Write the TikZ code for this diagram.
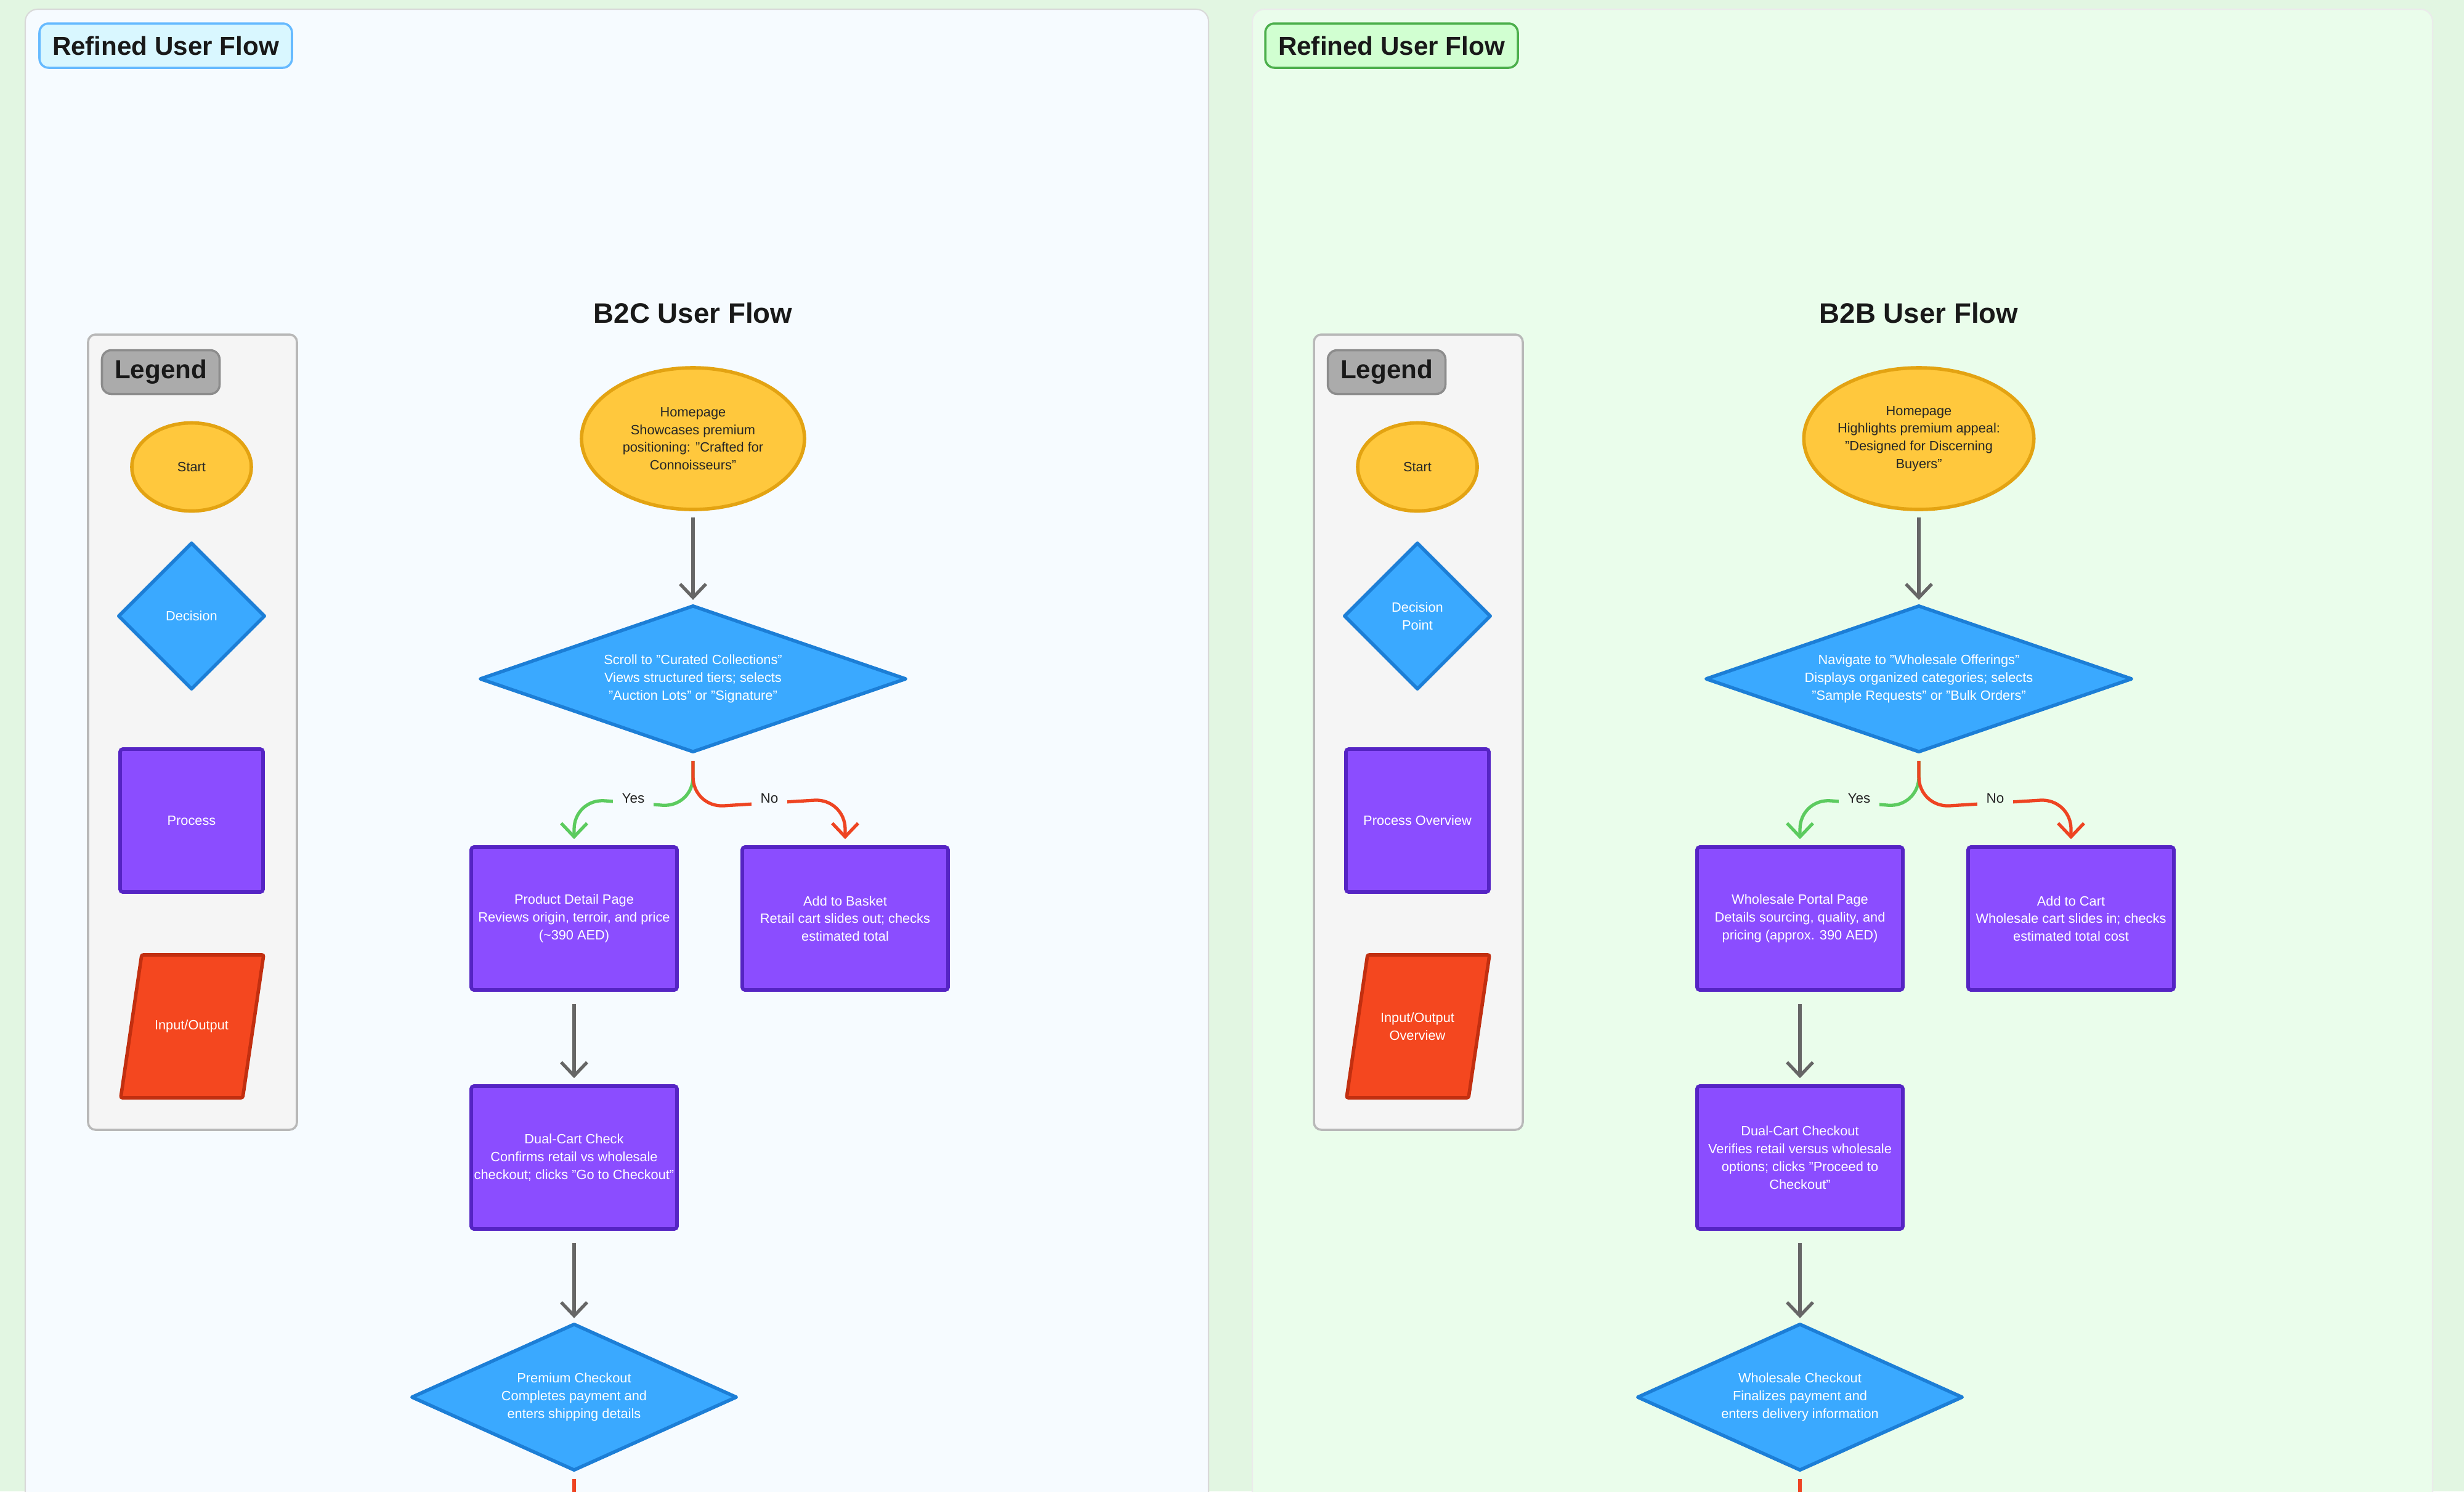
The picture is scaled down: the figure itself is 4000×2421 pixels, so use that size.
\documentclass[tikz,border=0pt]{standalone}
\usepackage{fontspec}
\setmainfont{Liberation Sans}
\usetikzlibrary{shapes.geometric,arrows.meta}
\definecolor{bgall}{HTML}{E2F6E2}
\definecolor{panA}{HTML}{F6FBFF}
\definecolor{panB}{HTML}{EAFDEB}
\definecolor{startF}{HTML}{FFC83D}\definecolor{startD}{HTML}{E3A312}
\definecolor{decF}{HTML}{3AA9FF}\definecolor{decD}{HTML}{1C7ED6}
\definecolor{procF}{HTML}{8B4DFF}\definecolor{procD}{HTML}{5524C4}
\definecolor{ioF}{HTML}{F4471F}\definecolor{ioD}{HTML}{C22F10}
\definecolor{yesC}{HTML}{5CCB5F}\definecolor{noC}{HTML}{EE4422}
\definecolor{grayA}{HTML}{666666}
\tikzset{
 txt/.style={font=\fontsize{6.2}{8.2}\selectfont, align=center},
 startN/.style={ellipse, draw=startD, fill=startF, line width=1.6pt, inner sep=0pt, txt, text=black!85},
 decBox/.style={rectangle, inner sep=0pt, txt, text=white},
 decPath/.style={draw=decD, fill=decF, line width=1.6pt, line join=round},
 procN/.style={rectangle, rounded corners=1.2pt, draw=procD, fill=procF, line width=1.6pt, inner sep=0pt, txt, text=white},
 tipA/.style={-{Straight Barb[length=2.2mm,width=4.2mm,line width=1.5pt]}},
 arr/.style={draw=grayA, line width=1.5pt, tipA},
 yesA/.style={draw=yesC, line width=1.5pt, rounded corners=5mm, tipA},
 noA/.style={draw=noC, line width=1.5pt, rounded corners=5mm, tipA},
 lab/.style={font=\fontsize{6.4}{8}\selectfont, text=black!85, inner sep=1.5mm},
 tag/.style={rounded corners=1.5mm, line width=1pt, font=\bfseries\fontsize{12}{14}\selectfont, text=black!90, inner sep=0pt},
 ttl/.style={font=\bfseries\fontsize{13}{15}\selectfont, text=black!90},
}
\def\dia#1{\filldraw[decPath] (#1.north) -- (#1.east) -- (#1.south) -- (#1.west) -- cycle;}
\begin{document}
\begin{tikzpicture}[x=0.1mm,y=-0.1mm]
\useasboundingbox (0,0) rectangle (4000,2421);
\clip (0,0) rectangle (4000,2421);
\fill[bgall] (0,0) rectangle (4000,2421);
% panels
\filldraw[fill=panA, draw=black!15, line width=0.6pt, rounded corners=2mm] (41,15) rectangle (1962,2500);
\filldraw[fill=panB, draw=black!8, line width=0.6pt, rounded corners=2mm] (2033,15) rectangle (3949,2500);
\node[tag, fill=blue!20!cyan!15, draw=blue!45!cyan!60, minimum width=41mm, minimum height=7.2mm] (tagA) at (269,74) {Refined User Flow};
\node[tag, fill=green!18, draw=green!55!black!70, minimum width=41mm, minimum height=7.2mm] (tagB) at (2259,74) {Refined User Flow};

\def\dlA{Decision}\def\plA{Process}\def\ilA{Input/Output}
\def\dlB{Decision\\Point}\def\plB{Process Overview}\def\ilB{Input/Output\\Overview}
\foreach \o/\p in {0/A, 1990/B}{
 \begin{scope}[xshift=\o*0.1mm]
 \filldraw[fill=black!4, draw=black!28, line width=1pt, rounded corners=1.2mm] (143,543) rectangle (482,1834);
 \node[tag, fill=black!33, draw=black!45, minimum width=19.1mm, minimum height=7.1mm] (lg\p) at (261,604) {Legend};
 \node[startN, minimum width=19.4mm, minimum height=14.3mm] (ls\p) at (311,758) {Start};
 \node[decBox, minimum width=23.5mm, minimum height=23.5mm] (ld\p) at (311,1000) {};
 \dia{ld\p}
 \node[decBox] at (ld\p) {\csname dl\p\endcsname};
 \node[procN, minimum width=23.2mm, minimum height=23.2mm] (lp\p) at (311,1332) {\csname pl\p\endcsname};
 \filldraw[fill=ioF, draw=ioD, line width=1.6pt, rounded corners=0.8pt] (230,1550) -- (428,1550) -- (394,1782) -- (196,1782) -- cycle;
 \node[txt, text=white] (li\p) at (311,1666) {\csname il\p\endcsname};
 \end{scope}
}

% ---------- B2C ----------
\node[ttl] (tA) at (1125,508) {B2C User Flow};
\node[startN, minimum width=36.2mm, minimum height=23mm] (hA) at (1125,712) {Homepage\\Showcases premium\\positioning: "Crafted for\\Connoisseurs"};
\node[decBox, minimum width=68.9mm, minimum height=23.5mm] (d1A) at (1125,1102) {};
\dia{d1A}
\node[decBox] at (d1A) {Scroll to "Curated Collections"\\Views structured tiers; selects\\"Auction Lots" or "Signature"};
\node[procN, minimum width=33.4mm, minimum height=23.2mm] (p1A) at (932,1491) {Product Detail Page\\Reviews origin, terroir, and price\\(\textasciitilde390 AED)};
\node[procN, minimum width=33.4mm, minimum height=23.2mm] (p2A) at (1372,1491) {Add to Basket\\Retail cart slides out; checks\\estimated total};
\node[procN, minimum width=33.4mm, minimum height=23.2mm] (p3A) at (932,1879) {Dual-Cart Check\\Confirms retail vs wholesale\\checkout; clicks "Go to Checkout"};
\node[decBox, minimum width=52.5mm, minimum height=23.5mm] (d2A) at (932,2268) {};
\dia{d2A}
\node[decBox] at (d2A) {Premium Checkout\\Completes payment and\\enters shipping details};
\coordinate (eA) at (932,2440);

% ---------- B2B ----------
\node[ttl] (tB) at (3115,508) {B2B User Flow};
\node[startN, minimum width=36.2mm, minimum height=23mm] (hB) at (3115,712) {Homepage\\Highlights premium appeal:\\"Designed for Discerning\\Buyers"};
\node[decBox, minimum width=68.9mm, minimum height=23.5mm] (d1B) at (3115,1102) {};
\dia{d1B}
\node[decBox] at (d1B) {Navigate to "Wholesale Offerings"\\Displays organized categories; selects\\"Sample Requests" or "Bulk Orders"};
\node[procN, minimum width=33.4mm, minimum height=23.2mm] (p1B) at (2922,1491) {Wholesale Portal Page\\Details sourcing, quality, and\\pricing (approx. 390 AED)};
\node[procN, minimum width=33.4mm, minimum height=23.2mm] (p2B) at (3362,1491) {Add to Cart\\Wholesale cart slides in; checks\\estimated total cost};
\node[procN, minimum width=33.4mm, minimum height=23.2mm] (p3B) at (2922,1879) {Dual-Cart Checkout\\Verifies retail versus wholesale\\options; clicks "Proceed to\\Checkout"};
\node[decBox, minimum width=52.5mm, minimum height=23.5mm] (d2B) at (2922,2268) {};
\dia{d2B}
\node[decBox] at (d2B) {Wholesale Checkout\\Finalizes payment and\\enters delivery information};
\coordinate (eB) at (2922,2440);

\foreach \p in {A,B}{
 \draw[arr] ([yshift=-1mm]h\p.south) -- ([yshift=1mm]d1\p.north);
 \draw[yesA] ([yshift=-1.5mm]d1\p.south) -- ([yshift=-1.5mm]d1\p.south |- 0,1296) -- (p1\p.north |- 0,1296) -- ([yshift=1mm]p1\p.north);
 \draw[noA] ([yshift=-1.5mm]d1\p.south) -- ([yshift=-1.5mm]d1\p.south |- 0,1296) -- (p2\p.north |- 0,1296) -- ([yshift=1mm]p2\p.north);
 \draw[arr] ([yshift=-2mm]p1\p.south) -- ([yshift=1mm]p3\p.north);
 \draw[arr] ([yshift=-2mm]p3\p.south) -- ([yshift=1mm]d2\p.north);
 \draw[noC, line width=1.5pt] ([yshift=-1.5mm]d2\p.south) -- (e\p);
}
\node[lab, fill=panA] (yA) at (1028,1296) {Yes};
\node[lab, fill=panA] (nA) at (1249,1296) {No};
\node[lab, fill=panB] (yB) at (3018,1296) {Yes};
\node[lab, fill=panB] (nB) at (3239,1296) {No};
\end{tikzpicture}
\end{document}
